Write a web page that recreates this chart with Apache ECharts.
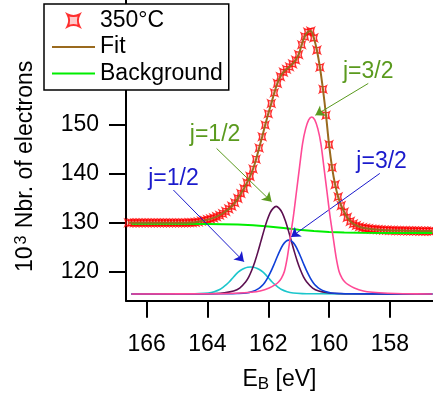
<!DOCTYPE html>
<html><head><meta charset="utf-8">
<script src="https://cdn.jsdelivr.net/npm/echarts@6/dist/echarts.min.js"></script>
<style>html,body{margin:0;padding:0;background:#fff}#c{width:433px;height:394px}</style>
</head><body><div id="c"></div>
<script>
const xTicks = [158, 160, 162, 164, 166];
const yTicks = [120, 130, 140, 150];

// measured spectrum (350°C): [binding energy eV, 10^3 electrons]
const measured = [
[166.6,130.0],[166.5,130.0],[166.4,130.0],[166.3,130.0],[166.2,130.0],[166.1,130.0],[166.0,130.0],[165.9,130.0],[165.8,130.0],[165.7,130.0],
[165.6,130.0],[165.5,130.0],[165.4,130.0],[165.3,130.0],[165.2,130.0],[165.1,130.0],[165.0,130.0],[164.9,130.0],[164.8,130.0],[164.7,130.0],
[164.6,130.05],[164.5,130.05],[164.4,130.1],[164.3,130.2],[164.2,130.35],[164.1,130.5],[164.0,130.65],[163.9,130.8],[163.8,131.0],[163.7,131.25],
[163.6,131.55],[163.5,131.9],[163.4,132.35],[163.3,132.85],[163.2,133.4],[163.1,134.1],[163.0,135.0],[162.9,136.0],[162.8,137.0],[162.7,138.2],
[162.6,139.5],[162.5,141.0],[162.4,143.0],[162.3,145.3],[162.2,147.6],[162.1,150.0],[162.0,152.3],[161.9,154.4],[161.8,156.6],[161.7,158.5],
[161.6,159.9],[161.5,160.8],[161.4,161.4],[161.3,161.9],[161.2,162.5],[161.1,163.3],[161.0,164.4],[160.9,166.4],[160.8,168.1],[160.7,169.0],
[160.6,169.2],[160.5,167.8],[160.4,165.3],[160.3,161.8],[160.2,157.3],[160.1,152.0],[160.0,146.0],[159.9,141.3],[159.8,137.8],[159.7,135.3],
[159.6,133.5],[159.5,132.2],[159.4,131.1],[159.3,130.3],[159.2,129.8],[159.1,129.45],[159.0,129.2],[158.9,129.0],[158.8,128.9],[158.7,128.8],
[158.6,128.7],[158.5,128.65],[158.4,128.6],[158.3,128.55],[158.2,128.5],[158.1,128.5],[158.0,128.45],[157.9,128.45],[157.8,128.4],[157.7,128.4],
[157.6,128.4],[157.5,128.4],[157.4,128.35],[157.3,128.35],[157.2,128.35],[157.1,128.35],[157.0,128.3],[156.9,128.3],[156.8,128.3],[156.7,128.3],[156.6,128.3]
];

const background = [
[166.5,129.8],[165.0,129.8],[164.0,129.75],[163.5,129.7],[163.0,129.65],[162.5,129.5],[162.0,129.25],[161.5,128.95],
[161.0,128.6],[160.5,128.3],[160.0,128.1],[159.5,128.0],[159.0,127.95],[158.0,127.9],[156.6,127.9]
];

const cyanPeak = [
[156.6,115.45],[160.58,115.48],[160.88,115.52],[161.18,115.65],[161.38,115.9],[161.58,116.4],[161.68,116.85],[161.78,117.35],[161.88,117.95],
[161.98,118.65],[162.08,119.35],[162.18,119.95],[162.28,120.4],[162.38,120.7],[162.48,120.9],[162.58,120.95],[162.68,120.9],[162.78,120.7],
[162.88,120.4],[162.98,119.95],[163.08,119.35],[163.18,118.65],[163.28,117.95],[163.38,117.35],[163.48,116.85],[163.58,116.4],[163.78,115.9],
[163.98,115.65],[164.28,115.52],[164.58,115.48],[166.5,115.45]
];

const purplePeak = [
[156.6,115.45],[159.24,115.48],[159.74,115.55],[160.04,115.7],[160.34,116.05],[160.54,116.65],[160.74,117.95],[160.84,118.95],[160.94,120.35],
[161.04,122.05],[161.14,124.05],[161.24,126.25],[161.34,128.45],[161.44,130.45],[161.54,132.05],[161.64,132.95],[161.74,133.35],[161.84,132.95],
[161.94,132.05],[162.04,130.45],[162.14,128.45],[162.24,126.25],[162.34,124.05],[162.44,122.05],[162.54,120.35],[162.64,118.95],[162.74,117.95],
[162.94,116.65],[163.14,116.05],[163.44,115.7],[163.74,115.55],[164.24,115.48],[166.5,115.45]
];

const bluePeak = [
[156.6,115.45],[159.32,115.48],[159.62,115.53],[159.92,115.65],[160.12,115.95],[160.32,116.55],[160.42,117.05],[160.52,117.75],[160.62,118.75],
[160.72,119.95],[160.82,121.35],[160.92,122.85],[161.02,124.25],[161.12,125.45],[161.22,126.2],[161.32,126.45],[161.42,126.2],[161.52,125.45],
[161.62,124.25],[161.72,122.85],[161.82,121.35],[161.92,119.95],[162.02,118.75],[162.12,117.75],[162.22,117.05],[162.32,116.55],[162.52,115.95],
[162.72,115.65],[163.02,115.53],[163.32,115.48],[166.5,115.45]
];

const pinkPeak = [
[156.6,115.45],[157.57,115.5],[158.07,115.6],[158.57,115.8],[158.87,116.05],[159.17,116.65],[159.37,117.35],[159.47,117.85],[159.57,118.65],
[159.67,120.05],[159.77,123.05],[159.87,127.25],[159.97,131.45],[160.07,136.45],[160.17,141.45],[160.27,146.25],[160.37,149.25],[160.47,151.05],
[160.57,151.65],[160.67,151.05],[160.77,149.25],[160.87,146.25],[160.97,141.45],[161.07,136.45],[161.17,131.45],[161.27,127.25],[161.37,123.05],
[161.47,120.05],[161.57,118.65],[161.67,117.85],[161.77,117.35],[161.97,116.65],[162.27,116.05],[162.57,115.8],[163.07,115.6],[163.57,115.5],[166.5,115.45]
];

const annoText = ['j=1/2', 'j=1/2', 'j=3/2', 'j=3/2'];
const annoTextAt = [[163.75,148.0],[165.12,139.1],[158.71,160.9],[158.27,142.5]];
const arrowFrom = [[163.70,145.2],[165.12,136.7],[158.71,158.5],[158.33,140.1]];
const arrowTo = [[161.89,134.3],[162.80,122.05],[160.45,152.0],[161.25,127.1]];

const FONT = 'Liberation Sans, Arial, sans-serif';
const GREEN_T = '#5a9a1e', BLUE_T = '#1a1acc';
const annoColor = [GREEN_T, BLUE_T, GREEN_T, BLUE_T];
const marker = 'path://M0,0 C3,1.6 7,1.6 10,0 C8.4,3 8.4,7 10,10 C7,8.4 3,8.4 0,10 C1.6,7 1.6,3 0,0 Z';
const lineIcon = 'path://M0,0 L43,0 L43,2.2 L0,2.2 Z';

const chart = echarts.init(document.getElementById('c'), null, {renderer: 'canvas'});
chart.setOption({
  animation: false,
  backgroundColor: '#fff',
  textStyle: {fontFamily: FONT},
  grid: {left: 126, right: 0, top: 0, bottom: 93.3, containLabel: false, outerBoundsMode: 'none'},
  legend: {
    orient: 'vertical', left: 44, top: 4, itemWidth: 43, itemHeight: 12, itemGap: 3.5,
    padding: [5, 6, 5, 8], borderColor: '#000', borderWidth: 1.5, backgroundColor: '#fff',
    selectedMode: false, z: 20,
    textStyle: {fontSize: 23, color: '#000', fontFamily: FONT},
    data: [{name: '350°C', icon: marker}, {name: 'Fit', icon: lineIcon}, {name: 'Background', icon: lineIcon}]
  },
  xAxis: {
    type: 'value', inverse: true, min: 156.58, max: 166.68,
    axisLine: {lineStyle: {color: '#000', width: 2}},
    axisTick: {customValues: xTicks, length: 17, lineStyle: {color: '#000', width: 2}},
    axisLabel: {customValues: xTicks, margin: 32, fontSize: 23, color: '#000', fontFamily: FONT},
    splitLine: {show: false},
    name: '{a|E}{b|B}{a| [eV]}', nameLocation: 'middle', nameGap: 66,
    nameTextStyle: {color: '#000', fontFamily: FONT, rich: {
      a: {fontSize: 23, lineHeight: 26, color: '#000', fontFamily: FONT},
      b: {fontSize: 17, lineHeight: 17, padding: [6, 0, 0, 0], verticalAlign: 'bottom', color: '#000', fontFamily: FONT}
    }}
  },
  yAxis: {
    type: 'value', min: 114.07, max: 175.56,
    axisLine: {lineStyle: {color: '#000', width: 2}},
    axisTick: {customValues: yTicks, length: 17, lineStyle: {color: '#000', width: 2}},
    axisLabel: {customValues: yTicks, margin: 27, fontSize: 23, color: '#000', fontFamily: FONT},
    splitLine: {show: false},
    name: '{n|10}{s|3}{n| Nbr. of electrons}', nameLocation: 'middle', nameGap: 82, nameRotate: 90,
    nameTextStyle: {color: '#000', fontFamily: FONT, padding: [0, 32, 0, 0], rich: {
      n: {fontSize: 23, lineHeight: 23, verticalAlign: 'bottom', color: '#000', fontFamily: FONT},
      s: {fontSize: 16, lineHeight: 16, padding: [0, 1, 20, 2], verticalAlign: 'top', color: '#000', fontFamily: FONT}
    }}
  },
  series: [
    {name: '350°C', type: 'scatter', data: measured, symbol: marker, symbolSize: 7, z: 2,
     itemStyle: {color: 'rgba(255,60,60,0.35)', borderColor: '#ff0000', borderWidth: 1.3}},
    {name: 'Background', type: 'line', data: background, symbol: 'none', z: 3,
     lineStyle: {color: '#00ee00', width: 2}, itemStyle: {color: '#00ee00'}},
    {name: 'Fit', type: 'line', data: measured, symbol: 'none', z: 4, smooth: 0.3,
     lineStyle: {color: '#9a6a1e', width: 2}, itemStyle: {color: '#9a6a1e'}},
    {name: 'c1', type: 'line', data: cyanPeak, symbol: 'none', z: 5, smooth: 0.3,
     lineStyle: {color: '#1cc6cc', width: 1.6}},
    {name: 'c2', type: 'line', data: purplePeak, symbol: 'none', z: 5, smooth: 0.3,
     lineStyle: {color: '#5c0f50', width: 1.6}},
    {name: 'c3', type: 'line', data: bluePeak, symbol: 'none', z: 5, smooth: 0.3,
     lineStyle: {color: '#1040d8', width: 1.6}},
    {name: 'c4', type: 'line', data: pinkPeak, symbol: 'none', z: 6, smooth: 0.3,
     lineStyle: {color: '#ff4a96', width: 1.6},
     markLine: {
       silent: true, symbol: ['none', 'arrow'], symbolSize: 9, animation: false,
       label: {show: false}, emphasis: {disabled: true},
       data: arrowFrom.map((f, i) => [
         {coord: f, lineStyle: {color: annoColor[i], width: 1, type: 'solid'}, itemStyle: {color: annoColor[i]}},
         {coord: arrowTo[i]}
       ])
     },
     markPoint: {
       silent: true, symbol: 'circle', symbolSize: 1, animation: false,
       itemStyle: {color: 'rgba(0,0,0,0)'},
       label: {show: true, position: 'inside', formatter: '{b}', fontSize: 23, fontFamily: FONT},
       data: annoText.map((t, i) => ({name: t, coord: annoTextAt[i], label: {color: annoColor[i]}}))
     }}
  ]
});
</script></body></html>
